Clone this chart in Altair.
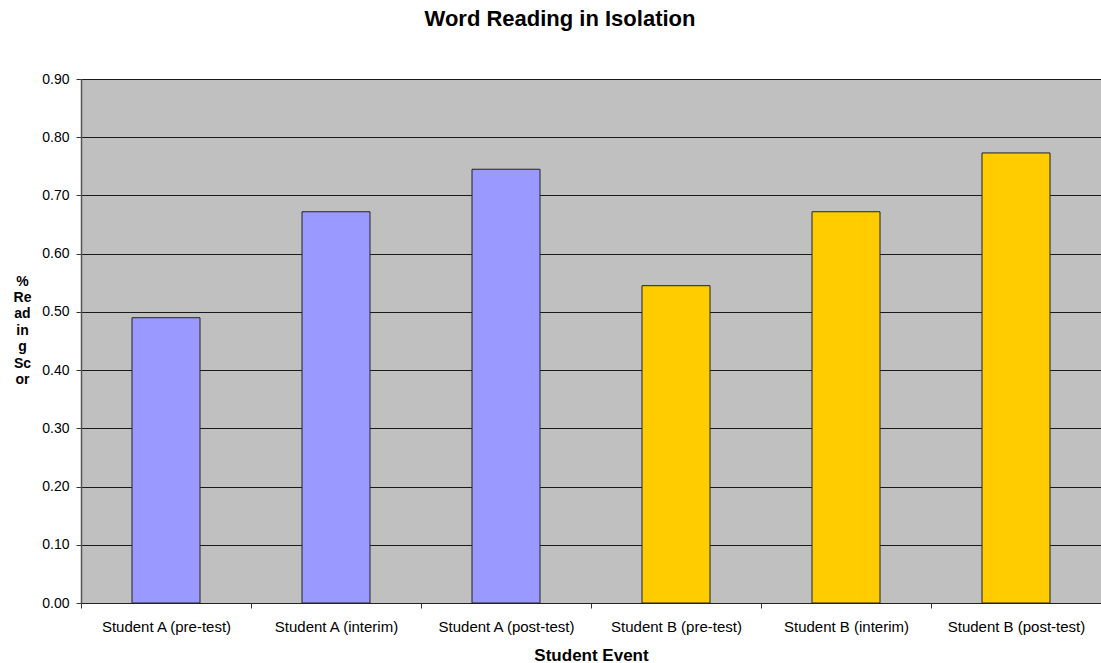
import altair as alt
import pandas as pd

# Word reading scores per student and testing event
events = [
    "Student A (pre-test)",
    "Student A (interim)",
    "Student A (post-test)",
    "Student B (pre-test)",
    "Student B (interim)",
    "Student B (post-test)",
]
scores = [0.49, 0.672, 0.745, 0.545, 0.672, 0.773]
students = ["A", "A", "A", "B", "B", "B"]

df = pd.DataFrame({"event": events, "score": scores, "student": students})

FONT = "Liberation Sans"

bars = alt.Chart(df).mark_bar(
    stroke="#222222", strokeWidth=1, width=alt.RelativeBandSize(0.4)
).encode(
    x=alt.X(
        "event:N",
        sort=events,
        scale=alt.Scale(paddingInner=0, paddingOuter=0),
        axis=alt.Axis(
            title="Student Event",
            titleFont=FONT,
            titleFontSize=17,
            titleFontWeight="bold",
            titleColor="black",
            titleBaseline="alphabetic",
            titleY=57,
            labelAngle=0,
            labelFont=FONT,
            labelFontSize=15,
            labelColor="black",
            labelPadding=11,
            tickBand="extent",
            tickSize=5,
            tickColor="#333333",
            domainColor="#222222",
            domainWidth=1,
        ),
    ),
    y=alt.Y(
        "score:Q",
        scale=alt.Scale(domain=[0, 0.9], nice=False),
        axis=alt.Axis(
            title=["%", "Re", "ad", "in", "g", "Sc", "or"],
            titleFont=FONT,
            titleFontSize=14,
            titleFontWeight="bold",
            titleColor="black",
            titleAngle=0,
            titleAlign="center",
            titleBaseline="top",
            titleLineHeight=16.4,
            titleX=-59,
            titleY=195,
            values=[0, 0.1, 0.2, 0.3, 0.4, 0.5, 0.6, 0.7, 0.8, 0.9],
            format=".2f",
            labelFont=FONT,
            labelFontSize=14,
            labelColor="black",
            labelPadding=7,
            tickSize=5,
            tickColor="#333333",
            grid=True,
            gridColor="#1a1a1a",
            gridWidth=1,
            domainColor="#555555",
            domainWidth=1.5,
        ),
    ),
    color=alt.Color(
        "student:N",
        scale=alt.Scale(domain=["A", "B"], range=["#9999FF", "#FFCC00"]),
        legend=None,
    ),
)

chart = bars.properties(
    width=1020,
    height=524,
    background="white",
    title=alt.TitleParams(
        "Word Reading in Isolation",
        font=FONT,
        fontSize=22,
        fontWeight="bold",
        color="black",
        anchor="middle",
        dx=-31,
        offset=41,
    ),
    autosize=alt.AutoSizeParams(type="none"),
    padding={"left": 81, "top": 79, "right": 0, "bottom": 60},
).configure_view(
    fill="#C0C0C0",
    stroke=None,
)

chart.save("out.html", embed_options={"renderer": "svg", "actions": False})
